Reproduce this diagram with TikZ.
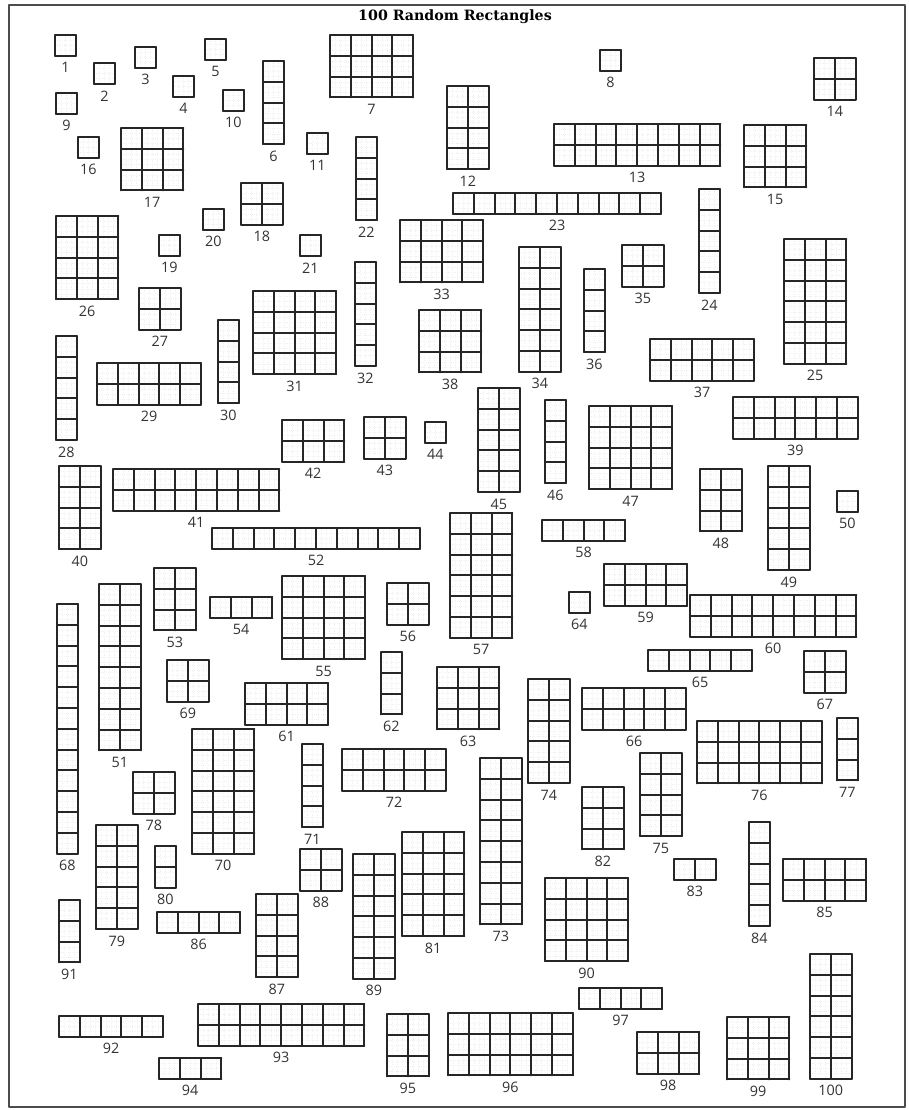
\documentclass[tikz,border=0pt]{standalone}
\usepackage{fontspec}
\newfontfamily\labfont{Open Sans}
\newfontfamily\titlefont{DejaVu Serif}
\newcommand{\cellsz}{20.8}
% one grid of cols x rows cells, top left at (x,y), number below
\newcommand{\rectgrid}[5]{%
  \pgfmathsetmacro{\rw}{#4*\cellsz}
  \pgfmathsetmacro{\rh}{#5*\cellsz}
  \pgfmathtruncatemacro{\nsx}{4*#4}
  \pgfmathtruncatemacro{\nsy}{4*#5}
  \foreach \j in {1,...,\nsx} \draw[subline] ({#2+\j*\cellsz/4},#3) -- ++(0,\rh);
  \foreach \j in {1,...,\nsy} \draw[subline] (#2,{#3+\j*\cellsz/4}) -- ++(\rw,0);
  \foreach \i in {0,...,#4} \draw[cellline] ({#2+\i*\cellsz},#3) -- ++(0,\rh);
  \foreach \i in {0,...,#5} \draw[cellline] (#2,{#3+\i*\cellsz}) -- ++(\rw,0);
  \node[numlabel] (l#1) at ({#2+\rw/2},{#3+\rh+12}) {#1};
}
\begin{document}
\begin{tikzpicture}[x=0.5pt,y=-0.5pt,line cap=round,line join=round,
  cellline/.style={line width=0.95pt,black!85},
  subline/.style={line width=0.15pt,black!10,densely dotted},
  numlabel/.style={font=\labfont\fontsize{7.2}{8}\selectfont,inner sep=0pt,text=black!80},
  frame/.style={line width=1.3pt,black!70}]
  \useasboundingbox (0,0) rectangle (909,1110);
  \draw[frame] (9,5) rectangle (905,1107);
  \node[font=\titlefont\bfseries\fontsize{7.1}{8}\selectfont] (title) at (455,17) {100 Random Rectangles};
  \foreach \num/\px/\py/\nc/\nr in {
    1/55/35/1/1, 2/94/63/1/1, 3/135/47/1/1, 4/173/76/1/1, 5/205/39/1/1,
    6/263/61/1/4, 7/330/35/4/3, 8/600/50/1/1, 9/56/93/1/1, 10/223/90/1/1,
    11/307/133/1/1, 12/447/86/2/4, 13/554/124/8/2, 14/814/58/2/2, 15/744/125/3/3,
    16/78/137/1/1, 17/121/128/3/3, 18/241/183/2/2, 19/159/235/1/1, 20/203/209/1/1,
    21/300/235/1/1, 22/356/137/1/4, 23/453/193/10/1, 24/699/189/1/5, 25/784/239/3/6,
    26/56/216/3/4, 27/139/288/2/2, 28/56/336/1/5, 29/97/363/5/2, 30/218/320/1/4,
    31/253/291/4/4, 32/355/262/1/5, 33/400/220/4/3, 34/519/247/2/6, 35/622/245/2/2,
    36/584/269/1/4, 37/650/339/5/2, 38/419/310/3/3, 39/733/397/6/2, 40/59/466/2/4,
    41/113/469/8/2, 42/282/420/3/2, 43/364/417/2/2, 44/425/422/1/1, 45/478/388/2/5,
    46/545/400/1/4, 47/589/406/4/4, 48/700/469/2/3, 49/768/466/2/5, 50/837/491/1/1,
    51/99/584/2/8, 52/212/528/10/1, 53/154/568/2/3, 54/210/597/3/1, 55/282/576/4/4,
    56/387/583/2/2, 57/450/513/3/6, 58/542/520/4/1, 59/604/564/4/2, 60/690/595/8/2,
    61/245/683/4/2, 62/381/652/1/3, 63/437/667/3/3, 64/569/592/1/1, 65/648/650/5/1,
    66/582/688/5/2, 67/804/651/2/2, 68/57/604/1/12, 69/167/660/2/2, 70/192/729/3/6,
    71/302/744/1/4, 72/342/749/5/2, 73/480/758/2/8, 74/528/679/2/5, 75/640/753/2/4,
    76/697/721/6/3, 77/837/718/1/3, 78/133/772/2/2, 79/96/825/2/5, 80/155/846/1/2,
    81/402/832/3/5, 82/582/787/2/3, 83/674/859/2/1, 84/749/822/1/5, 85/783/859/4/2,
    86/157/912/4/1, 87/256/894/2/4, 88/300/849/2/2, 89/353/854/2/6, 90/545/878/4/4,
    91/59/900/1/3, 92/59/1016/5/1, 93/198/1004/8/2, 94/159/1058/3/1, 95/387/1014/2/3,
    96/448/1013/6/3, 97/579/988/4/1, 98/637/1032/3/2, 99/727/1017/3/3, 100/810/954/2/6}
    {\rectgrid{\num}{\px}{\py}{\nc}{\nr}}
\end{tikzpicture}
\end{document}
